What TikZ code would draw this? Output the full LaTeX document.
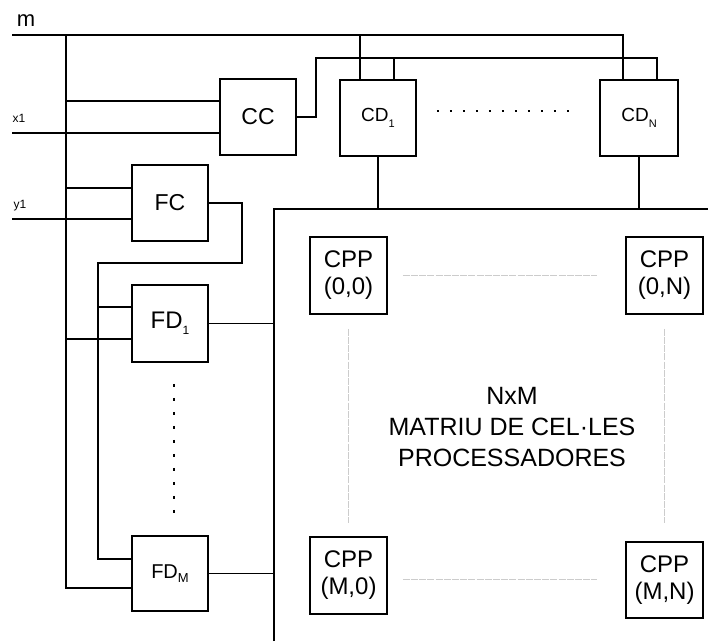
\documentclass[tikz,border=0pt]{standalone}
\usepackage{fontspec}
\setmainfont{Liberation Sans}
\usetikzlibrary{calc}
\newcommand{\fs}[1]{\fontsize{#1}{#1}\selectfont}
\newcommand{\lowsub}[3]{\raisebox{#1}{\fontsize{#2}{#2}\selectfont #3}}
\begin{document}
\begin{tikzpicture}[x=1pt,y=-1pt,line width=1.5pt,
  box/.style={draw, minimum width=76pt, minimum height=76pt, inner sep=0pt, align=center},
  cpp/.style={box, minimum width=77pt, minimum height=77pt, font=\fontsize{24}{27}\selectfont},
  dotsh/.style={dash pattern=on 2pt off 11pt},
  dotsv/.style={dash pattern=on 3pt off 11pt},
  greyline/.style={draw=gray!40, line width=1pt, dash pattern=on 7pt off 1.2pt}]
\useasboundingbox (0,0) rectangle (708,641);
% boxes
\node[box] (CC) at (258,117) {\fs{23}CC};
\node[box] (CD1) at (378,118) {\fs{19}CD\lowsub{-6pt}{11}{1}};
\node[box, minimum width=78pt] (CDN) at (639,118) {\fs{19}CD\lowsub{-6pt}{11}{N}};
\node[box] (FC) at (170,203) {\fs{23}FC};
\node[box, minimum height=77pt] (FD1) at (170,323.5) {\fs{24}FD\lowsub{-6pt}{12}{1}};
\node[box, minimum height=75pt] (FDM) at (170,573.5) {\fs{20}FD\lowsub{-4pt}{13}{M}};
\node[cpp] (P00) at (348.5,275.5) {CPP\\(0,0)};
\node[cpp] (P0N) at (664.5,275.5) {CPP\\(0,N)};
\node[cpp] (PM0) at (348.5,575.5) {CPP\\(M,0)};
\node[cpp, minimum height=76pt] (PMN) at (664.5,580) {CPP\\(M,N)};
\node[align=center, font=\fontsize{25}{31}\selectfont] (T) at (512,427) {NxM\\MATRIU DE CEL·LES\\PROCESSADORES};
% labels
\node[anchor=base, inner sep=0pt, font=\fs{22}] (m) at (26,26) {m};
\node[anchor=base, inner sep=0pt, font=\fs{12}] (x1) at (19,122) {x1};
\node[anchor=base, inner sep=0pt, font=\fs{12}] (y1) at (20,208) {y1};
% m line and bus
\coordinate (mL) at (12,35);
\coordinate (busT) at (66,35);
\coordinate (busB) at (66,588);
\draw (mL) -| ($(CDN.north)+(-16,0)$);
\draw ($(CD1.north)+(-18,0)$) -- ($(CD1.north)+(-18,-45)$);
\draw (busT) -- (busB) -- (busB -| FDM.west);
% CC
\draw (CC.east) -| (316,58) -| ($(CDN.north)+(18,0)$);
\draw ($(CD1.north)+(16,0)$) -- ($(CD1.north)+(16,-22)$);
\draw ($(CC.west)+(0,-16)$) -- ($(CC.west)+(-154,-16)$);
\coordinate (x1L) at (12,133);
\draw (x1L) -- (x1L -| CC.west);
% FC
\draw ($(FC.west)+(0,-15)$) -- ($(FC.west)+(-66,-15)$);
\coordinate (y1L) at (12,219);
\draw (y1L) -- (y1L -| FC.west);
\coordinate (fcB) at (98,559);
\coordinate (fcM) at (98,307);
\draw (FC.east) -| (242,263) -| (fcB) -- (fcB -| FDM.west);
\draw (fcM) -- (fcM -| FD1.west);
\draw ($(FD1.west)+(0,15.5)$) -- ($(FD1.west)+(-66,15.5)$);
% matrix border
\coordinate (mxTL) at (274,209);
\coordinate (mxBL) at (274,641);
\coordinate (mxTR) at (708,209);
\draw (mxBL) -- (mxTL) -- (mxTR);
\draw (CD1.south) -- (CD1.south |- mxTL);
\draw (CDN.south) -- (CDN.south |- mxTL);
\draw (FD1.east) -- (FD1.east -| mxTL);
\draw (FDM.east) -- (FDM.east -| mxTL);
% dots
\draw[dotsh] ($(CD1.east)+(20,-7)$) -- ($(CDN.west)+(-20,-7)$);
\draw[dotsv] ($(FD1.south)+(4,21)$) -- ($(FDM.north)+(4,-22)$);
% grey
\draw[greyline] ($(P00.east)+(15,0)$) -- ($(P0N.west)+(-28,0)$);
\draw[greyline] ($(PM0.east)+(15,3.5)$) -- ($(PMN.west)+(-28,-1)$);
\draw[greyline] ($(P00.south)+(0,14)$) -- ($(PM0.north)+(0,-13)$);
\draw[greyline] ($(P0N.south)+(0,14)$) -- ($(PMN.north)+(0,-18)$);
\end{tikzpicture}
\end{document}
